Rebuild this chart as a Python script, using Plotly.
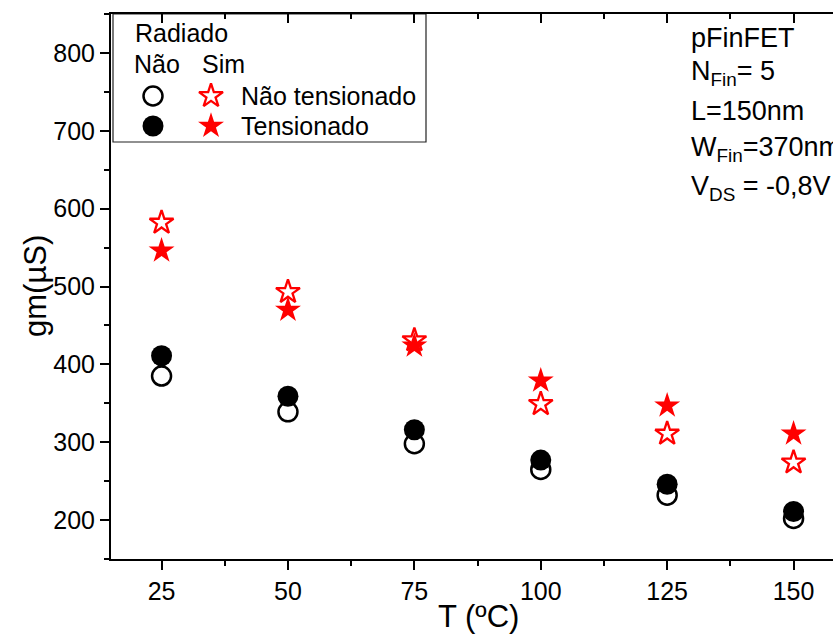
import plotly.graph_objects as go

# Temperature sweep (ºC) and transconductance gm (µS) of the pFinFET
temps = [25, 50, 75, 100, 125, 150]
gm_notrad_unstrained = [385, 339, 298, 265, 232, 202]   # Não radiado, não tensionado
gm_notrad_strained = [411, 359, 316, 277, 246, 211]     # Não radiado, tensionado
gm_rad_unstrained = [582, 493, 431, 349, 311, 274]      # Radiado, não tensionado
gm_rad_strained = [546, 470, 424, 379, 347, 311]        # Radiado, tensionado

x_ticks = [25, 50, 75, 100, 125, 150]
y_ticks = [200, 300, 400, 500, 600, 700, 800]

device_info = [
    "pFinFET",
    "N<sub>Fin</sub>= 5",
    "L=150nm",
    "W<sub>Fin</sub>=370nm",
    "V<sub>DS</sub> = -0,8V",
]

W, H = 833, 636
ML, MR, MT, MB = 111, 0, 14, 77
FONT = "Arial, Liberation Sans, sans-serif"
RED = "#ff0000"


def px(x):
    return (x - ML) / (W - ML - MR)


def py(y):
    return (H - MB - y) / (H - MT - MB)


open_circle = dict(symbol="circle-open", size=19, color="black", line=dict(width=2.5, color="black"))
full_circle = dict(symbol="circle", size=21, color="black", line=dict(width=0))
open_star = dict(symbol="star", size=18, color="white", line=dict(width=2.3, color=RED))
full_star = dict(symbol="star", size=19.5, color=RED, line=dict(width=0))

fig = go.Figure()
fig.add_trace(go.Scatter(x=temps, y=gm_notrad_unstrained, mode="markers", marker=open_circle))
fig.add_trace(go.Scatter(x=temps, y=gm_notrad_strained, mode="markers", marker=full_circle))
fig.add_trace(go.Scatter(x=temps, y=gm_rad_unstrained, mode="markers", marker=open_star))
fig.add_trace(go.Scatter(x=temps, y=gm_rad_strained, mode="markers", marker=full_star))

# Hand-built legend keys on an invisible overlay axis spanning the plot area
key_x = [px(153), px(211)]
key_y = [py(96), py(126)]
fig.add_trace(go.Scatter(x=[key_x[0]], y=[key_y[0]], mode="markers", marker=open_circle, xaxis="x3", yaxis="y3"))
fig.add_trace(go.Scatter(x=[key_x[1]], y=[key_y[0]], mode="markers", marker=open_star, xaxis="x3", yaxis="y3"))
fig.add_trace(go.Scatter(x=[key_x[0]], y=[key_y[1]], mode="markers", marker=full_circle, xaxis="x3", yaxis="y3"))
fig.add_trace(go.Scatter(x=[key_x[1]], y=[key_y[1]], mode="markers", marker=full_star, xaxis="x3", yaxis="y3"))

axis_common = dict(
    showline=True, linecolor="black", linewidth=2, showgrid=False, zeroline=False,
    ticks="outside", ticklen=9, tickwidth=2, tickcolor="black",
    tickfont=dict(size=25, family=FONT, color="black"),
)

fig.update_layout(
    width=W, height=H,
    margin=dict(l=ML, r=MR, t=MT, b=MB),
    plot_bgcolor="white", paper_bgcolor="white",
    showlegend=False,
    font=dict(family=FONT, color="black"),
    xaxis=dict(
        range=[15, 157.8], tickmode="array", tickvals=x_ticks,
        minor=dict(dtick=12.5, tick0=0, ticks="outside", ticklen=5, tickwidth=2, tickcolor="black"),
        **axis_common,
    ),
    xaxis2=dict(
        overlaying="x", matches="x", side="top", showline=True, linecolor="black", linewidth=2,
        showgrid=False, zeroline=False, showticklabels=False,
        ticks="inside", ticklen=9, tickwidth=2, tickcolor="black",
        tickmode="array", tickvals=x_ticks,
        minor=dict(dtick=12.5, tick0=0, ticks="inside", ticklen=5, tickwidth=2, tickcolor="black"),
    ),
    yaxis=dict(
        range=[150, 850], tickmode="array", tickvals=y_ticks,
        minor=dict(dtick=50, tick0=0, ticks="outside", ticklen=5, tickwidth=2, tickcolor="black"),
        **axis_common,
    ),
    xaxis3=dict(overlaying="x", range=[0, 1], visible=False, fixedrange=True),
    yaxis3=dict(overlaying="y", range=[0, 1], visible=False, fixedrange=True),
)
# invisible trace so the top axis is drawn
fig.add_trace(go.Scatter(x=[temps[0]], y=[gm_rad_strained[0]], xaxis="x2", mode="markers",
                         marker=dict(opacity=0), hoverinfo="skip"))

# Legend frame
fig.add_shape(type="rect", xref="paper", yref="paper",
              x0=px(113), x1=px(426), y0=py(142), y1=py(14),
              line=dict(color="#222222", width=1.2), fillcolor="rgba(0,0,0,0)", layer="below")

leg_font = dict(size=25, family=FONT, color="black")
legend_texts = [
    ("Radiado", 133, 33),
    ("Não", 132, 64),
    ("Sim", 200, 64),
    ("Não tensionado", 239, 96),
    ("Tensionado", 239, 126),
]
for txt, x0, y0 in legend_texts:
    fig.add_annotation(text=txt, xref="paper", yref="paper", x=px(x0), y=py(y0),
                       xanchor="left", yanchor="middle", showarrow=False, font=leg_font)

# Device parameters
info_y = [38, 73, 111, 149, 188]
for txt, y0 in zip(device_info, info_y):
    fig.add_annotation(text=txt, xref="paper", yref="paper", x=px(689), y=py(y0),
                       xanchor="left", yanchor="middle", showarrow=False,
                       font=dict(size=27, family=FONT, color="black"))

# Axis titles
fig.add_annotation(text="T (ºC)", xref="paper", yref="paper", x=px(478), y=py(616),
                   xanchor="center", yanchor="middle", showarrow=False,
                   font=dict(size=31, family=FONT, color="black"))
fig.add_annotation(text="gm(µS)", xref="paper", yref="paper", x=px(35), y=py(286),
                   xanchor="center", yanchor="middle", textangle=-90, showarrow=False,
                   font=dict(size=31, family=FONT, color="black"))

fig.write_html("out.html")
